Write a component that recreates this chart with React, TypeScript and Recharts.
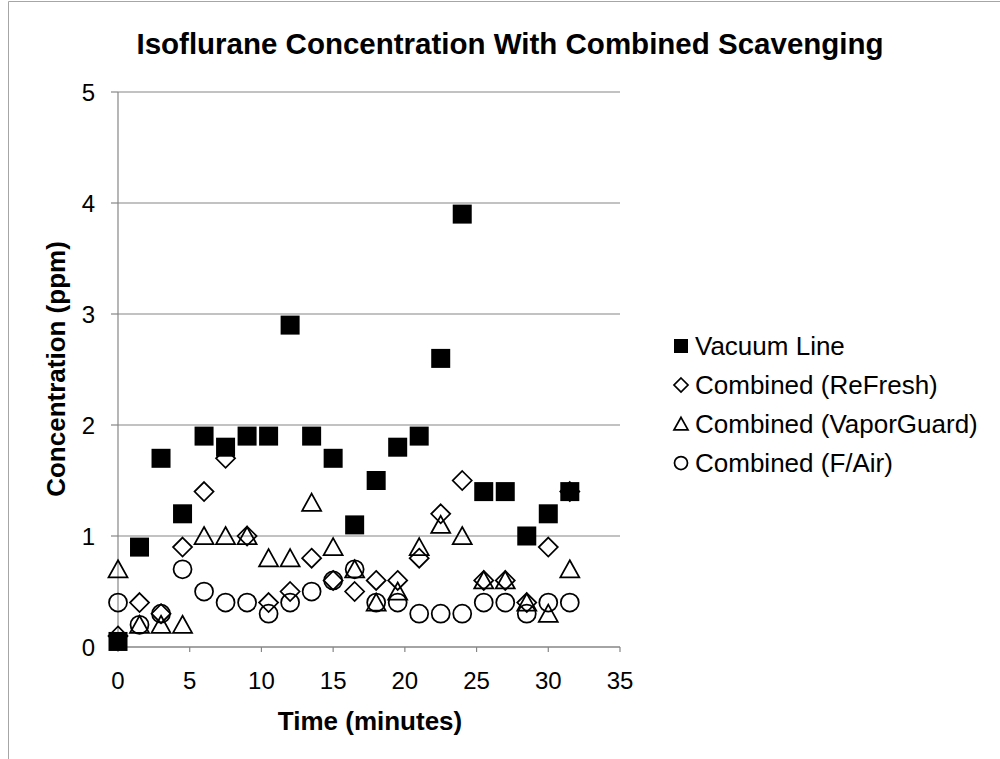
import { ScatterChart, Scatter, XAxis, YAxis, CartesianGrid } from 'recharts'

const FONT = '"Liberation Sans", Arial, sans-serif'
const AXIS_GRAY = '#868686'

const times = [0, 1.5, 3, 4.5, 6, 7.5, 9, 10.5, 12, 13.5, 15, 16.5, 18, 19.5, 21, 22.5, 24, 25.5, 27, 28.5, 30, 31.5]

const vacuumLine = [0.05, 0.9, 1.7, 1.2, 1.9, 1.8, 1.9, 1.9, 2.9, 1.9, 1.7, 1.1, 1.5, 1.8, 1.9, 2.6, 3.9, 1.4, 1.4, 1.0, 1.2, 1.4]
const refresh = [0.1, 0.4, 0.3, 0.9, 1.4, 1.7, 1.0, 0.4, 0.5, 0.8, 0.6, 0.5, 0.6, 0.6, 0.8, 1.2, 1.5, 0.6, 0.6, 0.4, 0.9, 1.4]
const vaporGuard = [0.7, 0.2, 0.2, 0.2, 1.0, 1.0, 1.0, 0.8, 0.8, 1.3, 0.9, 0.7, 0.4, 0.5, 0.9, 1.1, 1.0, 0.6, 0.6, 0.4, 0.3, 0.7]
const fAir = [0.4, 0.2, 0.3, 0.7, 0.5, 0.4, 0.4, 0.3, 0.4, 0.5, 0.6, 0.7, 0.4, 0.4, 0.3, 0.3, 0.3, 0.4, 0.4, 0.3, 0.4, 0.4]

const xTicks = [0, 5, 10, 15, 20, 25, 30, 35]
const yTicks = [0, 1, 2, 3, 4, 5]

const seriesNames = ['Vacuum Line', 'Combined (ReFresh)', 'Combined (VaporGuard)', 'Combined (F/Air)']

const toPoints = (values: number[]) => times.map((time, i) => ({ time, value: values[i] }))

// marker glyphs, shared by plot and legend
function markerPath(kind: string, cx: number, cy: number, s: number) {
  const h = s / 2
  if (kind === 'diamond') return `M${cx},${cy - h}L${cx + h},${cy}L${cx},${cy + h}L${cx - h},${cy}Z`
  if (kind === 'triangle') return `M${cx},${cy - h * 0.95}L${cx + h},${cy + h * 0.85}L${cx - h},${cy + h * 0.85}Z`
  return ''
}

function Marker({ kind, cx, cy, size }: { kind: string; cx: number; cy: number; size: number }) {
  if (kind === 'square') {
    return <rect x={cx - size / 2} y={cy - size / 2} width={size} height={size} fill="#000" />
  }
  if (kind === 'circle') {
    return <circle cx={cx} cy={cy} r={size / 2 - 0.5} fill="none" stroke="#000" strokeWidth={1.75} />
  }
  return <path d={markerPath(kind, cx, cy, size)} fill="none" stroke="#000" strokeWidth={1.75} />
}

const markerKinds = ['square', 'diamond', 'triangle', 'circle']

const shapeFor = (kind: string) => (props: any) => <Marker kind={kind} cx={props.cx} cy={props.cy} size={19} />

export default function App() {
  const seriesValues = [vacuumLine, refresh, vaporGuard, fAir]
  return (
    <div style={{ position: 'absolute', left: 0, top: 0, background: '#fff' }}>
      <ScatterChart width={1000} height={759} margin={{ top: 92, right: 380, bottom: 52, left: 58 }}>
        <path d="M8.5,759V1.5H1000" fill="none" stroke="#a6a6a6" strokeWidth={1} />
        <CartesianGrid vertical={false} stroke={AXIS_GRAY} strokeWidth={1.2} />
        <XAxis
          type="number"
          dataKey="time"
          domain={[0, 35]}
          ticks={xTicks}
          height={60}
          tickSize={5}
          tickMargin={20}
          axisLine={{ stroke: AXIS_GRAY, strokeWidth: 1.2 }}
          tickLine={{ stroke: AXIS_GRAY, strokeWidth: 1.2 }}
          tick={{ fontSize: 24, fill: '#000', fontFamily: FONT }}
        />
        <YAxis
          type="number"
          dataKey="value"
          domain={[0, 5]}
          ticks={yTicks}
          width={60}
          tickSize={7}
          tickMargin={16}
          axisLine={{ stroke: AXIS_GRAY, strokeWidth: 1.2 }}
          tickLine={{ stroke: AXIS_GRAY, strokeWidth: 1.2 }}
          tick={{ fontSize: 24, fill: '#000', fontFamily: FONT }}
        />
        {seriesValues.map((values, i) => (
          <Scatter
            key={seriesNames[i]}
            name={seriesNames[i]}
            data={toPoints(values)}
            shape={shapeFor(markerKinds[i])}
            isAnimationActive={false}
          />
        ))}
        <text x={510} y={54} textAnchor="middle" fontSize={29.5} fontWeight="bold" fontFamily={FONT} fill="#000">
          Isoflurane Concentration With Combined Scavenging
        </text>
        <text x={370} y={730} textAnchor="middle" fontSize={26} fontWeight="bold" fontFamily={FONT} fill="#000">
          Time (minutes)
        </text>
        <text
          x={65}
          y={369}
          textAnchor="middle"
          transform="rotate(-90 65 369)"
          fontSize={26}
          fontWeight="bold"
          fontFamily={FONT}
          fill="#000"
        >
          Concentration (ppm)
        </text>
        {seriesNames.map((name, i) => {
          const baseline = 355 + i * 39
          return (
            <g key={name}>
              <Marker kind={markerKinds[i]} cx={681} cy={baseline - 9} size={14} />
              <text x={695} y={baseline} fontSize={26} fontFamily={FONT} fill="#000">
                {name}
              </text>
            </g>
          )
        })}
      </ScatterChart>
    </div>
  )
}
